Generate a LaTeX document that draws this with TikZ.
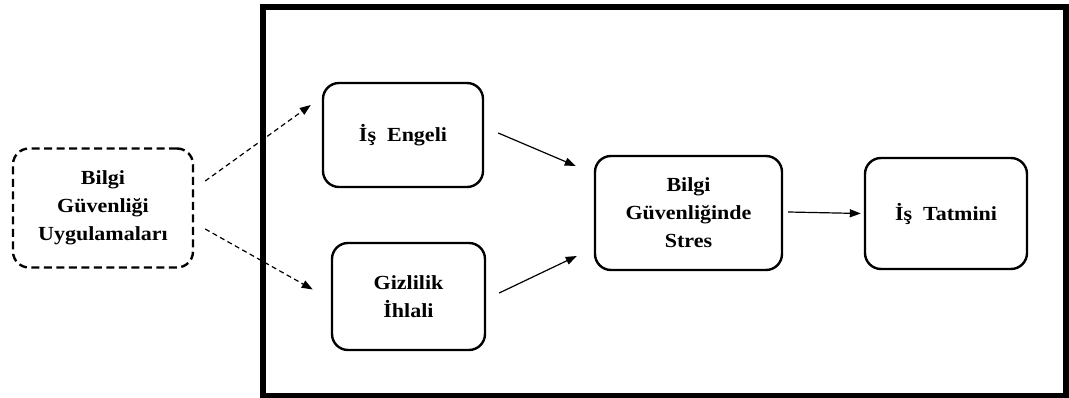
\documentclass[tikz,border=0pt]{standalone}
\usepackage{fontspec}
\setmainfont{Liberation Serif}[FakeStretch=1.1]
\usetikzlibrary{arrows.meta,calc}
\begin{document}
\begin{tikzpicture}[x=1pt,y=-1pt,
  box/.style={draw,line width=2.4pt,rounded corners=16pt,align=center,
    font=\fontsize{20}{28}\selectfont\bfseries,inner sep=0pt},
  dbox/.style={box,dash pattern=on 8pt off 4.5pt},
  arr/.style={line width=1.2pt,-{Triangle[length=11pt,width=8pt]}},
  darr/.style={arr,dash pattern=on 5pt off 3.5pt}]
\useasboundingbox (0,0) rectangle (1069,398);
\draw[line width=6pt] (263,7) rectangle (1066,395.5);
\node[dbox,minimum width=180pt,minimum height=119pt] (bgu) at (103,208) {Bilgi\\Güvenliği\\Uygulamaları};
\node[box,minimum width=160pt,minimum height=104pt] (ie) at (403,135) {İş\ \ Engeli};
\node[box,minimum width=153pt,minimum height=107pt] (gi) at (408.5,296.5) {Gizlilik\\İhlali};
\node[box,minimum width=187pt,minimum height=114pt] (bgs) at (688.5,213) {Bilgi\\Güvenliğinde\\Stres};
\node[box,minimum width=162pt,minimum height=111pt] (it) at (946,213.5) {İş\ \ Tatmini};
\coordinate (a1s) at ($(bgu.east)+(11,-27)$);
\coordinate (a1e) at ($(ie.west)+(-11,-30)$);
\draw[darr] (a1s) -- (a1e);
\coordinate (a2s) at ($(bgu.east)+(11,21)$);
\coordinate (a2e) at ($(gi.west)+(-18,-7)$);
\draw[darr] (a2s) -- (a2e);
\coordinate (a3s) at ($(ie.east)+(14,-2)$);
\coordinate (a3e) at ($(bgs.west)+(-18,-47)$);
\draw[arr] (a3s) -- (a3e);
\coordinate (a4s) at ($(gi.east)+(13,-3.5)$);
\coordinate (a4e) at ($(bgs.west)+(-17,43)$);
\draw[arr] (a4s) -- (a4e);
\coordinate (a5s) at ($(bgs.east)+(5,-1)$);
\coordinate (a5e) at ($(it.west)+(-3,0)$);
\draw[arr] (a5s) -- (a5e);
\end{tikzpicture}
\end{document}
